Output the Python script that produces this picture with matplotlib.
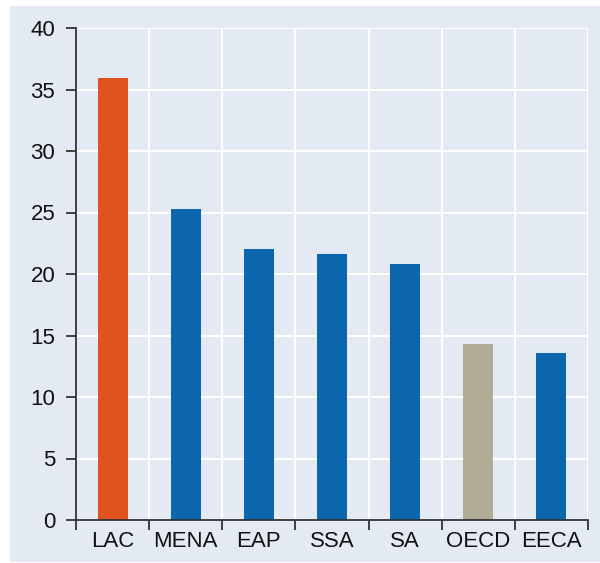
import matplotlib.pyplot as plt
import numpy as np
from matplotlib.patches import Rectangle

regions = ["LAC", "MENA", "EAP", "SSA", "SA", "OECD", "EECA"]
values = [35.9, 25.3, 22.0, 21.6, 20.8, 14.3, 13.6]
bar_colors = ["#e0531f", "#0b66ad", "#0b66ad", "#0b66ad", "#0b66ad", "#b0ab94", "#0b66ad"]
y_ticks = [0, 5, 10, 15, 20, 25, 30, 35, 40]

bg = "#e4eaf3"
plt.rcParams["font.family"] = ["Liberation Sans", "DejaVu Sans"]

fig = plt.figure(figsize=(6.0, 5.63), dpi=100)
fig.patch.set_facecolor("white")
fig.patches.append(Rectangle((10 / 600, 1 / 563), 590 / 600, 556 / 563,
                             transform=fig.transFigure, facecolor=bg,
                             edgecolor="none", zorder=-10))

ax = fig.add_axes([76 / 600, 1 - 520 / 563, 512 / 600, 492 / 563])
ax.set_facecolor(bg)

x = np.arange(len(regions))
ax.bar(x, values, width=0.41, color=bar_colors, zorder=3)

ax.set_xlim(-0.5, len(regions) - 0.5)
ax.set_ylim(0, 40)
ax.set_yticks(y_ticks)

# ticks on category boundaries, labels in the middle
ax.set_xticks(np.arange(-0.5, len(regions)), minor=False)
ax.set_xticklabels([])
ax.set_xticks(x, minor=True)
ax.set_xticklabels(regions, minor=True)
ax.tick_params(axis="x", which="minor", length=0, pad=8, labelsize=16, colors="#111111")
ax.tick_params(axis="x", which="major", length=7, width=1.3, color="#333333")
ax.tick_params(axis="y", length=7, width=1.3, color="#333333", pad=8,
               labelsize=16, labelcolor="#111111")

ax.grid(True, which="major", color="white", linewidth=1.5, zorder=0)
for side in ["top", "right"]:
    ax.spines[side].set_visible(False)
for side in ["left", "bottom"]:
    ax.spines[side].set_color("#333333")
    ax.spines[side].set_linewidth(1.3)
    ax.spines[side].set_zorder(4)

plt.savefig("out.png", dpi=100)
